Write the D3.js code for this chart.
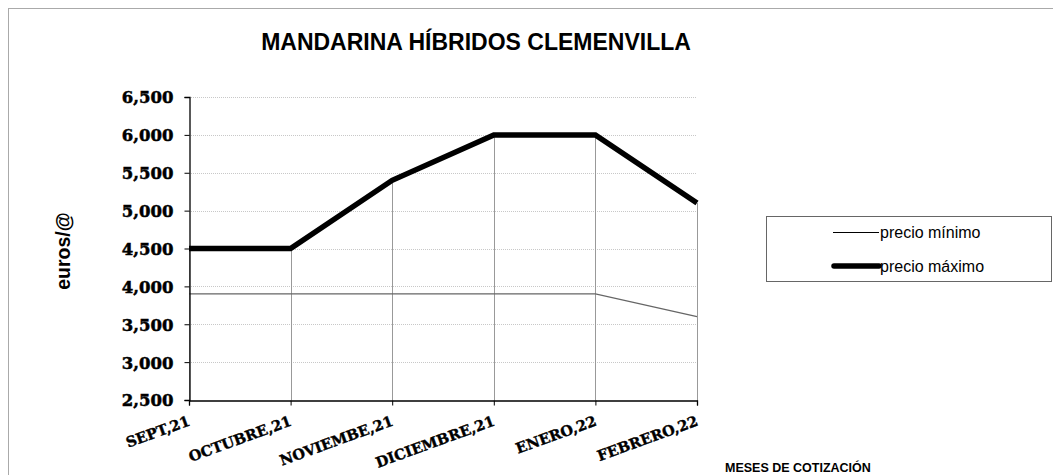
<!DOCTYPE html>
<html>
<head>
<meta charset="utf-8">
<script src="https://cdn.jsdelivr.net/npm/d3@7.9.0/dist/d3.min.js"></script>
<style>
  html, body { margin: 0; padding: 0; background: #fff; }
  svg { display: block; }
  .ytick text { font-family: "DejaVu Serif", serif; font-weight: bold; font-size: 16.5px; }
  .xlab { font-family: "DejaVu Serif", serif; font-weight: bold; font-size: 14.5px; }
  .sans { font-family: "Liberation Sans", Arial, sans-serif; }
</style>
</head>
<body>
<svg id="chart" width="1053" height="475"></svg>
<script>
// chart data
const months = ["SEPT,21", "OCTUBRE,21", "NOVIEMBE,21", "DICIEMBRE,21", "ENERO,22", "FEBRERO,22"];
const precioMinimo = [3900, 3900, 3900, 3900, 3900, 3600];
const precioMaximo = [4500, 4500, 5400, 6000, 6000, 5100];
const yTicks = [2500, 3000, 3500, 4000, 4500, 5000, 5500, 6000, 6500];
const seriesNames = ["precio mínimo", "precio máximo"];

const svg = d3.select('#chart');

// outer frame
svg.append('rect')
    .attr('x', 8.5).attr('y', 8.5)
    .attr('width', 1100).attr('height', 500)
    .attr('fill', 'none')
    .attr('stroke', '#aaa');

// scales
const x = d3.scalePoint().domain(months).range([189, 697]);
const y = d3.scaleLinear().domain([2500, 6500]).range([400, 97]);

// dotted horizontal gridlines
svg.append('g')
    .selectAll('line')
    .data(yTicks.slice(1))
    .join('line')
    .attr('x1', 189).attr('x2', 697)
    .attr('y1', d => Math.round(y(d)) + 0.5)
    .attr('y2', d => Math.round(y(d)) + 0.5)
    .attr('stroke', '#c8c8c8')
    .attr('stroke-dasharray', '1,1');

// drop lines from max series to the axis
svg.append('g')
    .selectAll('line')
    .data(months)
    .join('line')
    .attr('x1', d => Math.round(x(d)) + 0.5)
    .attr('x2', d => Math.round(x(d)) + 0.5)
    .attr('y1', (d, i) => y(precioMaximo[i]))
    .attr('y2', 400)
    .attr('stroke', '#999');

// lines
const line = d3.line()
    .x(d => x(d.m))
    .y(d => y(d.v));

svg.append('path')
    .datum(months.map((m, i) => ({ m, v: precioMinimo[i] })))
    .attr('d', line)
    .attr('fill', 'none')
    .attr('stroke', '#666')
    .attr('stroke-width', 1.3);

svg.append('path')
    .datum(months.map((m, i) => ({ m, v: precioMaximo[i] })))
    .attr('d', line)
    .attr('fill', 'none')
    .attr('stroke', '#000')
    .attr('stroke-width', 5.5);

// y axis
const yAxis = svg.append('g')
    .attr('class', 'ytick')
    .attr('transform', 'translate(189.5,0)')
    .call(d3.axisLeft(y).tickValues(yTicks).tickFormat(d3.format(',')).tickSize(5).tickPadding(11));
yAxis.select('.domain').attr('stroke', '#000').attr('stroke-width', 1.3);
yAxis.selectAll('text')
    .attr('fill', '#000')
    .attr('stroke', '#000')
    .attr('stroke-width', 0.5)
    .attr('dy', '0.36em');

// x axis
const xAxis = svg.append('g')
    .attr('transform', 'translate(0,400.5)')
    .call(d3.axisBottom(x).tickSize(5).tickFormat(''));
xAxis.select('.domain').attr('stroke', '#000').attr('stroke-width', 1.3);
xAxis.selectAll('.tick line').attr('stroke', '#000');

svg.append('g')
    .selectAll('text')
    .data(months)
    .join('text')
    .attr('class', 'xlab')
    .attr('text-anchor', 'end')
    .attr('transform', d => `translate(${x(d) + 2},425) rotate(-20)`)
    .attr('stroke', '#000')
    .attr('stroke-width', 0.4)
    .text(d => d);

// title
svg.append('text')
    .attr('class', 'sans')
    .attr('x', 476).attr('y', 50)
    .attr('text-anchor', 'middle')
    .attr('font-size', 23)
    .attr('font-weight', 'bold')
    .text('MANDARINA HÍBRIDOS CLEMENVILLA');

// axis titles
svg.append('text')
    .attr('class', 'sans')
    .attr('transform', 'translate(70,251) rotate(-90)')
    .attr('text-anchor', 'middle')
    .attr('font-size', 19.5)
    .attr('font-weight', 'bold')
    .text('euros/@');

svg.append('text')
    .attr('class', 'sans')
    .attr('x', 725).attr('y', 472)
    .attr('font-size', 12.5)
    .attr('font-weight', 'bold')
    .text('MESES DE COTIZACIÓN');

// legend
const legend = svg.append('g');
legend.append('rect')
    .attr('x', 766.5).attr('y', 216.5)
    .attr('width', 285).attr('height', 65)
    .attr('fill', '#fff')
    .attr('stroke', '#666');

const legendRows = [
    { name: seriesNames[0], y: 232.5, width: 1, stroke: '#000' },
    { name: seriesNames[1], y: 266, width: 5.5, stroke: '#000' }
];
legendRows.forEach(r => {
    legend.append('line')
        .attr('x1', r.width > 2 ? 834 : 833).attr('x2', 879)
        .attr('y1', r.y).attr('y2', r.y)
        .attr('stroke', r.stroke)
        .attr('stroke-width', r.width)
        .attr('stroke-linecap', r.width > 2 ? 'round' : 'butt');
    legend.append('text')
        .attr('class', 'sans')
        .attr('x', 880).attr('y', r.y + 5.5)
        .attr('font-size', 16)
        .text(r.name);
});
</script>
</body>
</html>
